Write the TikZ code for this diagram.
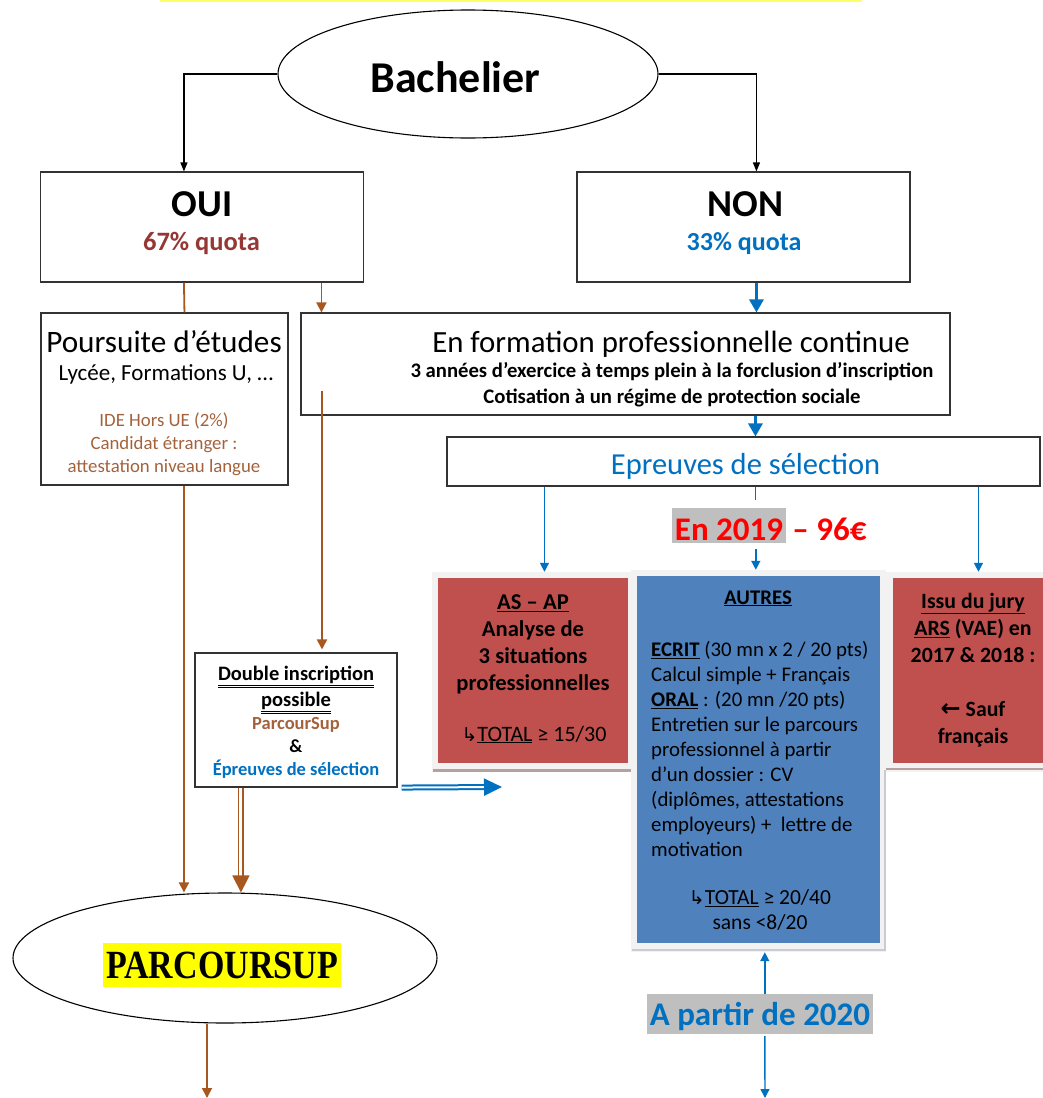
\documentclass[tikz,border=0pt]{standalone}
\usepackage{fontspec}
\setmainfont{Carlito}
\newfontfamily\dejavu{DejaVu Sans}
\newfontfamily\serifb{Liberation Serif}
\usepackage{graphicx}
\usetikzlibrary{shapes.geometric,arrows.meta,calc}
\definecolor{brownL}{RGB}{168,88,30}
\definecolor{brownT}{RGB}{164,98,60}
\definecolor{redQ}{RGB}{149,55,53}
\definecolor{blueT}{RGB}{0,112,192}
\definecolor{redF}{RGB}{192,80,77}
\definecolor{blueF}{RGB}{79,129,189}
\definecolor{grayL}{RGB}{191,191,191}
\definecolor{frameG}{RGB}{242,242,242}
\definecolor{shadowR}{RGB}{185,160,160}
\definecolor{shadowB}{RGB}{200,203,212}
\definecolor{hiY}{RGB}{255,255,0}
\definecolor{barY}{RGB}{255,255,102}
\newcommand\fs[2]{\fontsize{#1}{#2}\selectfont}
\newcommand\myul[1]{\underline{#1}}
\newcommand\myuul[1]{\underline{\underline{#1}}}
\begin{document}
\begin{tikzpicture}[x=1pt,y=-1pt,
  box/.style={draw=black!80, line width=1.1pt, inner sep=0pt, rectangle},
  fillbox/.style={draw=none, inner sep=0pt, rectangle},
  oval/.style={draw=black, line width=1.1pt, ellipse, inner sep=0pt},
  txt/.style={inner sep=0pt, anchor=base},
  blk/.style={inner sep=0pt, anchor=north, align=center},
  arrK/.style={draw=black, line width=1.1pt, -{Triangle[length=9pt,width=7pt]}},
  arrBr/.style={draw=brownL, line width=1.8pt, -{Triangle[length=10pt,width=10pt]}},
  lineBr/.style={draw=brownL, line width=1.8pt},
  dblBr/.style={draw=brownL, line width=1.5pt, double=white, double distance=3pt, -{Triangle[length=17pt,width=17pt]}},
  arrBlT/.style={draw=blueT, line width=3pt, -{Triangle[length=13pt,width=14pt]}},
  arrBl/.style={draw=blueT, line width=1.4pt, -{Triangle[length=9pt,width=9pt]}},
  lineBl/.style={draw=blueT, line width=1.4pt},
  dblBl/.style={draw=blueT, line width=2pt, double=white, double distance=2pt, -{Triangle[length=18pt,width=17pt]}},
]
\useasboundingbox (0,0) rectangle (1043,1098);
\fill[barY] (160,0) rectangle (862,2);

% ---- boxes
\node[oval, minimum width=380pt, minimum height=128pt] (bach) at (468,74) {};
\node[box, minimum width=323pt, minimum height=110pt] (oui) at (202,227) {};
\node[box, minimum width=333pt, minimum height=110pt] (non) at (743.5,227) {};
\node[box, minimum width=247pt, minimum height=172pt] (pours) at (164.5,399) {};
\node[box, minimum width=649pt, minimum height=102pt] (form) at (625.5,364) {};
\node[box, minimum width=593pt, minimum height=49pt] (epr) at (743.5,461.5) {};

\node[fillbox, fill=frameG, minimum width=200pt, minimum height=200pt] (asapO) at (532,672) {};
\node[fillbox, fill=redF, minimum width=190pt, minimum height=185pt] (asap) at (533,670.5) {};
\draw[shadowR, line width=3pt] (433,770) -- (632,770);

\node[fillbox, fill=frameG, minimum width=157pt, minimum height=200pt] (issuO) at (964.5,672) {};
\node[fillbox, fill=redF, minimum width=150pt, minimum height=185pt] (issu) at (968,670.5) {};
\draw[shadowR, line width=2pt] (886,769) -- (1043,769);

\node[fillbox, fill=frameG, minimum width=255pt, minimum height=382pt] (autresO) at (758.5,761) {};
\node[fillbox, fill=blueF, minimum width=243pt, minimum height=367pt] (autres) at (758.5,759.5) {};
\draw[shadowB, line width=2pt] (884.5,770) -- (884.5,950) -- (632,950);

\node[box, minimum width=202pt, minimum height=134pt] (dbl) at (296,720) {};
\node[oval, minimum width=424pt, minimum height=130pt] (parc) at (225,958) {};

\node[fillbox, fill=grayL, minimum width=114pt, text height=32pt, text depth=3pt,
      font=\fs{33}{36}\bfseries, text=red] (y2019) at (729,525.5) {En 2019};
\node[inner sep=0pt, anchor=base west, font=\fs{33}{36}\bfseries, text=red] (y2019b)
      at ($(y2019.base east)+(6,0)$) {– 96€};
\node[fillbox, fill=grayL, minimum width=226pt, text height=31pt, text depth=9pt,
      font=\fs{33}{36}\bfseries, text=blueT] (y2020) at (760,1014) {A partir de 2020};

% ---- texts
\node[txt, font=\fs{44}{50}\bfseries] (bachT) at (455.5,92) {Bachelier};
\node[txt, font=\fs{38}{42}\bfseries] (ouiT) at (202,216) {OUI};
\node[txt, font=\fs{26.5}{28}\bfseries, text=redQ] (ouiQ) at (201.5,250) {67\% quota};
\node[txt, font=\fs{38}{42}\bfseries] (nonT) at (745.5,216) {NON};
\node[txt, font=\fs{26}{28}\bfseries, text=blueT] (nonQ) at (744,250) {33\% quota};

\node[txt, font=\fs{31.2}{34}] (poursT) at (164,352) {Poursuite d’études};
\node[txt, font=\fs{23}{26}] (poursL) at (166,380) {Lycée, Formations U, …};
\node[blk, font=\fs{18.8}{23}, text=brownT] (poursI) at (164,409.9)
  {\strut IDE Hors UE (2\%)\\Candidat étranger :\\attestation niveau langue};

\node[txt, font=\fs{30.8}{34}] (formT) at (671,352) {En formation professionnelle continue};
\node[blk, font=\fs{20.7}{26}\bfseries] (formL) at (672,358.8)
  {\strut 3 années d’exercice à temps plein à la forclusion d’inscription\\Cotisation à un régime de protection sociale};

\node[txt, font=\fs{30.5}{34}, text=blueT] (eprT) at (745.5,474) {Epreuves de sélection};

\node[blk, font=\fs{22.6}{27}\bfseries] (asapT) at (533,590.1)
  {\strut\myul{AS – AP}\\Analyse de\\3 situations\\professionnelles};
\node[txt, font=\fs{22}{27}] (asapTot) at (534,741) {{\dejavu\fontsize{19}{20}\selectfont ↳}\myul{TOTAL} ≥ 15/30};

\node[txt, font=\fs{20.8}{25}\bfseries] (autresH) at (758,604) {\myul{AUTRES}};
\node[inner sep=0pt, anchor=north west, align=left, font=\fs{20.8}{25}] (autresB) at (651,638.5)
  {\strut\myul{\textbf{ECRIT}} (30 mn x 2 / 20 pts)\\
   Calcul simple + Français\\
   \myul{\textbf{ORAL}} : (20 mn /20 pts)\\
   Entretien sur le parcours\\
   professionnel à partir\\
   d’un dossier : CV\\
   (diplômes, attestations\\
   employeurs) +\ \ lettre de\\
   motivation};
\node[blk, font=\fs{21.5}{25}] (autresTot) at (760,886.5)
  {\strut{\dejavu\fontsize{19}{20}\selectfont ↳}\myul{TOTAL} ≥ 20/40\\sans <8/20};

\node[blk, font=\fs{21.8}{27}\bfseries] (issuT) at (973,589.1)
  {\strut\myul{Issu du jury}\\\myul{ARS} (VAE) en\\2017 \& 2018 :\\\mbox{}\\{\dejavu\bfseries\fontsize{24}{26}\selectfont ←} Sauf\\français};

\node[blk, font=\fs{20.5}{26}\bfseries] (dblA) at (296,661.8)
  {\strut\myuul{Double inscription}\\\myuul{possible}};
\node[blk, font=\fs{18.5}{23}\bfseries] (dblB) at (296,712.9)
  {\strut\textcolor{brownT}{ParcourSup}\\\&\\\textcolor{blueT}{Épreuves de sélection}};

\node[fillbox, fill=hiY, minimum width=238pt, minimum height=44pt,
      font=\serifb\bfseries\fs{40}{42}] (parcT) at (222,965) {\scalebox{0.85}[1]{PARCOURSUP}};

% ---- connectors
\draw[arrK] (bach.west) -| ($(oui.north west)+(144,0)$);
\draw[arrK] (bach.east) -| ($(non.north west)+(180,0)$);
\draw[lineBr] ($(oui.south west)+(144,0)$) -- ($(pours.north west)+(144,0)$);
\draw[arrBr] ($(oui.south west)+(281.5,0)$) -- ($(form.north west)+(21,0)$);
\draw[arrBlT] ($(non.south west)+(180,0)$) -- ($(form.north west)+(456,0)$);
\draw[arrBlT] ($(form.south west)+(455,0)$) -- ($(epr.north west)+(309,0)$);
\coordinate (brS) at (322,391);
\draw[arrBr, shorten >=3pt] (brS) -- (brS |- dbl.north);
\coordinate (p1) at ($(pours.south west)+(143.5,0)$);
\draw[arrBr] (p1) -- (p1 |- parc.north);
\coordinate (p2) at ($(dbl.south west)+(46.5,0)$);
\draw[dblBr] (p2) -- (p2 |- parc.north);
\coordinate (d1) at ($(dbl.south east)+(4,0)$);
\coordinate (d2) at (502,787);
\draw[dblBl] (d1) -- (d2);
\coordinate (e1) at ($(epr.south west)+(98,0)$);
\draw[arrBl] (e1) -- (e1 |- asapO.north);
\coordinate (e2) at ($(epr.south west)+(309,0)$);
\draw[lineBl, shorten >=8pt] (e2) -- (e2 |- y2019.north);
\coordinate (e3) at ($(y2019.south west)+(84,0)$);
\draw[arrBl, shorten <=6pt] (e3) -- (e3 |- autresO.north);
\coordinate (e4) at ($(epr.south west)+(532,0)$);
\draw[arrBl] (e4) -- (e4 |- issuO.north);
\coordinate (f1) at ($(y2020.north west)+(118,0)$);
\draw[arrBl] (f1) -- (f1 |- autresO.south);
\coordinate (f2) at ($(y2020.south west)+(118,0)$);
\coordinate (f3) at (765,1098);
\draw[arrBl, shorten <=2pt] (f2) -- (f3);
\coordinate (g1) at (207,1098);
\draw[arrBr] (parc.south -| g1) -- (g1);
\end{tikzpicture}
\end{document}
